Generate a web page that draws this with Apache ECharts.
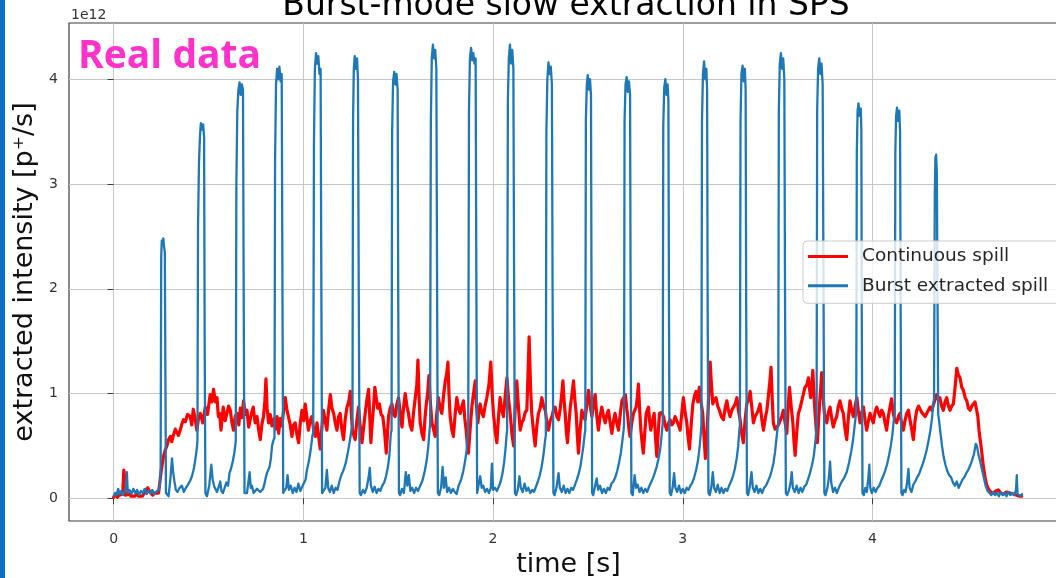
<!DOCTYPE html>
<html>
<head>
<meta charset="utf-8">
<title>Burst-mode slow extraction in SPS</title>
<script src="https://cdn.jsdelivr.net/npm/echarts@6/dist/echarts.min.js"></script>
<style>
html, body { margin: 0; padding: 0; background: #fff; }
#chart { width: 1056px; height: 578px; }
</style>
</head>
<body>
<div id="chart"></div>
<script>
// tick positions (s and 1e12 p+/s)
var xTicks = [0, 1, 2, 3, 4];
var yTicks = [0, 1, 2, 3, 4];

// continuous spill, [time s, intensity 1e12 p+/s]
var continuousSpill = [
  [0.000,0.01],[0.010,0.03],[0.020,0.01],[0.030,0.03],[0.040,0.02],[0.048,0.04],[0.054,0.27],[0.058,0.20],[0.062,0.03],[0.072,0.02],
  [0.082,0.04],[0.092,0.02],[0.102,0.03],[0.112,0.02],[0.122,0.04],[0.132,0.02],[0.142,0.03],[0.152,0.02],[0.162,0.05],[0.172,0.08],
  [0.180,0.10],[0.188,0.07],[0.196,0.05],[0.206,0.03],[0.216,0.05],[0.226,0.04],[0.237,0.05],[0.250,0.25],[0.263,0.40],[0.272,0.46],
  [0.281,0.50],[0.290,0.56],[0.299,0.59],[0.307,0.54],[0.315,0.60],[0.325,0.66],[0.334,0.67],[0.342,0.60],[0.351,0.65],[0.360,0.71],
  [0.369,0.75],[0.378,0.73],[0.390,0.80],[0.404,0.78],[0.412,0.70],[0.420,0.85],[0.430,0.76],[0.439,0.65],[0.448,0.77],[0.457,0.81],
  [0.470,0.72],[0.483,0.87],[0.495,0.80],[0.509,0.99],[0.518,0.92],[0.527,1.04],[0.536,0.92],[0.545,0.96],[0.552,0.78],[0.559,0.81],
  [0.566,0.65],[0.578,0.87],[0.588,0.74],[0.597,0.75],[0.606,0.88],[0.615,0.84],[0.624,0.72],[0.632,0.65],[0.641,0.78],[0.650,0.81],
  [0.660,0.70],[0.668,0.86],[0.676,0.77],[0.685,0.93],[0.694,0.80],[0.703,0.84],[0.712,0.68],[0.720,0.75],[0.728,0.82],[0.736,0.87],
  [0.746,0.72],[0.756,0.78],[0.764,0.66],[0.773,0.56],[0.782,0.71],[0.790,0.78],[0.797,0.92],[0.803,1.14],[0.809,0.86],[0.817,0.72],
  [0.826,0.80],[0.835,0.69],[0.846,0.76],[0.853,0.66],[0.861,0.78],[0.870,0.62],[0.878,0.76],[0.887,0.69],[0.896,0.84],[0.905,0.96],
  [0.913,0.85],[0.922,0.84],[0.931,0.70],[0.940,0.59],[0.948,0.70],[0.957,0.72],[0.966,0.61],[0.975,0.53],[0.984,0.72],[0.993,0.84],
  [1.002,0.74],[1.010,0.90],[1.018,0.78],[1.027,0.65],[1.036,0.74],[1.045,0.78],[1.054,0.66],[1.063,0.59],[1.072,0.72],[1.080,0.60],
  [1.089,0.47],[1.098,0.68],[1.106,0.84],[1.115,0.74],[1.124,0.65],[1.133,0.84],[1.142,0.99],[1.151,0.86],[1.160,0.81],[1.168,0.72],
  [1.177,0.65],[1.186,0.78],[1.194,0.81],[1.203,0.66],[1.212,0.56],[1.221,0.76],[1.230,0.87],[1.239,0.92],[1.247,1.02],[1.253,0.80],
  [1.259,0.65],[1.266,0.60],[1.273,0.56],[1.282,0.74],[1.291,0.87],[1.300,0.68],[1.309,0.53],[1.318,0.68],[1.326,0.81],[1.335,0.94],
  [1.344,1.04],[1.350,0.78],[1.356,0.53],[1.363,0.72],[1.370,0.87],[1.377,1.06],[1.384,0.96],[1.392,0.86],[1.401,0.90],[1.410,0.80],
  [1.419,0.78],[1.428,0.64],[1.437,0.43],[1.443,0.60],[1.449,0.78],[1.458,0.86],[1.467,0.90],[1.476,0.80],[1.484,0.78],[1.493,0.90],
  [1.502,0.96],[1.511,0.80],[1.520,0.68],[1.528,0.86],[1.537,1.00],[1.546,0.88],[1.554,0.81],[1.563,0.70],[1.572,0.65],[1.581,0.82],
  [1.590,0.96],[1.598,1.08],[1.604,1.32],[1.610,0.96],[1.616,0.72],[1.625,0.62],[1.634,0.56],[1.641,0.76],[1.648,0.90],[1.655,1.00],
  [1.662,1.17],[1.670,0.90],[1.678,0.72],[1.686,0.66],[1.695,0.59],[1.703,0.80],[1.712,0.96],[1.721,0.86],[1.730,0.81],[1.739,0.98],
  [1.748,1.12],[1.755,1.18],[1.762,1.30],[1.768,0.98],[1.774,0.78],[1.782,0.66],[1.791,0.59],[1.800,0.80],[1.809,0.96],[1.818,0.86],
  [1.827,0.81],[1.836,0.88],[1.844,0.93],[1.851,0.76],[1.858,0.65],[1.864,0.52],[1.870,0.43],[1.879,0.66],[1.888,0.87],[1.897,1.00],
  [1.906,1.12],[1.913,0.88],[1.920,0.72],[1.926,0.84],[1.932,0.90],[1.940,0.82],[1.949,0.78],[1.958,0.88],[1.967,0.96],[1.978,1.08],
  [1.988,1.30],[1.995,1.00],[2.002,0.81],[2.011,0.64],[2.020,0.53],[2.028,0.76],[2.037,0.96],[2.046,0.84],[2.055,0.78],[2.064,0.98],
  [2.073,1.15],[2.082,0.94],[2.090,0.81],[2.099,0.62],[2.108,0.50],[2.116,0.84],[2.125,1.12],[2.134,0.86],[2.143,0.65],[2.151,0.72],
  [2.160,0.75],[2.169,0.82],[2.178,0.84],[2.184,1.18],[2.190,1.54],[2.197,1.08],[2.204,0.81],[2.213,0.64],[2.222,0.50],[2.230,0.68],
  [2.239,0.81],[2.248,0.86],[2.257,0.96],[2.266,0.88],[2.275,0.84],[2.284,0.72],[2.292,0.65],[2.301,0.74],[2.310,0.78],[2.318,0.84],
  [2.327,0.87],[2.336,0.78],[2.345,0.75],[2.354,0.86],[2.361,0.98],[2.368,1.12],[2.374,0.94],[2.380,0.81],[2.386,0.64],[2.392,0.53],
  [2.400,0.72],[2.407,0.87],[2.415,0.98],[2.424,1.12],[2.431,0.94],[2.438,0.81],[2.444,0.60],[2.450,0.43],[2.459,0.66],[2.468,0.84],
  [2.476,0.78],[2.485,0.75],[2.494,0.90],[2.503,1.03],[2.512,0.88],[2.521,0.78],[2.530,0.90],[2.538,0.99],[2.546,0.80],[2.555,0.65],
  [2.564,0.78],[2.573,0.87],[2.582,0.78],[2.591,0.72],[2.600,0.80],[2.608,0.84],[2.617,0.72],[2.626,0.62],[2.635,0.74],[2.643,0.81],
  [2.652,0.72],[2.661,0.65],[2.670,0.80],[2.679,0.93],[2.688,0.94],[2.697,0.99],[2.704,0.86],[2.710,0.78],[2.716,0.66],[2.722,0.59],
  [2.731,0.72],[2.740,0.81],[2.747,0.82],[2.754,0.87],[2.760,0.96],[2.766,1.09],[2.772,0.86],[2.779,0.65],[2.786,0.52],[2.792,0.43],
  [2.800,0.64],[2.807,0.81],[2.813,0.82],[2.819,0.87],[2.825,0.74],[2.831,0.65],[2.840,0.74],[2.849,0.81],[2.856,0.58],[2.863,0.40],
  [2.870,0.62],[2.877,0.81],[2.888,0.82],[2.898,0.78],[2.907,0.70],[2.916,0.65],[2.925,0.72],[2.933,0.75],[2.942,0.70],[2.950,0.72],
  [2.959,0.78],[2.968,0.78],[2.977,0.70],[2.986,0.65],[2.995,0.82],[3.003,0.96],[3.012,0.82],[3.021,0.72],[3.028,0.58],[3.035,0.47],
  [3.044,0.70],[3.053,0.90],[3.062,0.98],[3.070,1.02],[3.079,0.92],[3.087,1.06],[3.096,0.92],[3.105,0.81],[3.112,0.58],[3.119,0.38],
  [3.125,0.56],[3.130,0.72],[3.137,1.00],[3.144,1.30],[3.151,1.08],[3.158,0.90],[3.166,0.94],[3.175,0.96],[3.184,0.88],[3.193,0.84],
  [3.203,0.78],[3.214,0.75],[3.223,0.86],[3.232,0.93],[3.240,0.84],[3.249,0.78],[3.258,0.84],[3.267,0.87],[3.276,0.90],[3.285,0.96],
  [3.293,0.84],[3.302,0.75],[3.310,0.62],[3.319,0.53],[3.328,0.74],[3.337,0.90],[3.346,0.94],[3.355,1.02],[3.364,0.86],[3.372,0.72],
  [3.381,0.78],[3.390,0.81],[3.398,0.84],[3.407,0.90],[3.416,0.76],[3.425,0.65],[3.434,0.76],[3.443,0.84],[3.450,0.96],[3.458,1.10],
  [3.465,1.25],[3.471,0.96],[3.477,0.72],[3.486,0.66],[3.495,0.65],[3.504,0.70],[3.513,0.69],[3.521,0.78],[3.530,0.84],[3.539,0.72],
  [3.548,0.62],[3.555,0.86],[3.562,1.06],[3.571,0.88],[3.580,0.72],[3.586,0.54],[3.592,0.41],[3.600,0.62],[3.609,0.81],[3.618,0.86],
  [3.627,0.93],[3.636,1.00],[3.644,1.06],[3.653,1.08],[3.662,1.15],[3.668,1.04],[3.674,0.96],[3.680,1.08],[3.685,1.22],[3.691,1.00],
  [3.697,0.81],[3.703,0.66],[3.709,0.53],[3.716,0.76],[3.723,0.96],[3.728,1.08],[3.732,1.20],[3.739,0.98],[3.746,0.81],[3.753,0.74],
  [3.759,0.72],[3.767,0.82],[3.776,0.87],[3.785,0.76],[3.793,0.68],[3.802,0.74],[3.811,0.78],[3.820,0.88],[3.828,0.93],[3.837,0.86],
  [3.846,0.81],[3.855,0.66],[3.864,0.56],[3.872,0.76],[3.881,0.93],[3.890,0.84],[3.899,0.78],[3.908,0.88],[3.917,0.96],[3.926,0.82],
  [3.934,0.72],[3.943,0.82],[3.952,0.87],[3.961,0.74],[3.969,0.65],[3.978,0.74],[3.987,0.81],[3.996,0.76],[4.004,0.72],[4.013,0.82],
  [4.022,0.87],[4.031,0.82],[4.039,0.78],[4.048,0.84],[4.057,0.81],[4.066,0.72],[4.074,0.65],[4.083,0.78],[4.092,0.87],[4.100,0.95],
  [4.109,0.81],[4.118,0.74],[4.127,0.72],[4.136,0.78],[4.144,0.81],[4.153,0.72],[4.162,0.65],[4.171,0.74],[4.180,0.81],[4.189,0.84],
  [4.197,0.84],[4.206,0.66],[4.215,0.56],[4.224,0.74],[4.233,0.84],[4.242,0.88],[4.250,0.87],[4.259,0.82],[4.268,0.81],[4.277,0.78],
  [4.285,0.78],[4.294,0.84],[4.303,0.87],[4.312,0.84],[4.320,0.84],[4.329,0.94],[4.338,0.99],[4.347,0.94],[4.355,0.96],[4.364,0.88],
  [4.373,0.84],[4.382,0.92],[4.391,0.96],[4.400,0.88],[4.408,0.84],[4.417,0.88],[4.426,0.90],[4.435,1.06],[4.444,1.24],[4.452,1.18],
  [4.461,1.15],[4.470,1.06],[4.479,1.03],[4.488,0.96],[4.497,0.93],[4.505,0.86],[4.514,0.84],[4.523,0.88],[4.532,0.87],[4.540,0.92],
  [4.549,0.93],[4.555,0.78],[4.561,0.65],[4.568,0.55],[4.575,0.45],[4.584,0.30],[4.593,0.20],[4.601,0.13],[4.610,0.09],[4.623,0.06],
  [4.637,0.05],[4.650,0.07],[4.663,0.08],[4.676,0.05],[4.689,0.04],[4.707,0.06],[4.724,0.05],[4.742,0.04],[4.760,0.03],[4.775,0.02],
  [4.786,0.02]
];

// burst extracted spill, [time s, intensity 1e12 p+/s]
var burstSpill = [
  [0.000,0.02],[0.008,0.05],[0.016,0.03],[0.024,0.09],[0.032,0.04],[0.040,0.07],[0.048,0.03],[0.056,0.06],[0.064,0.10],[0.070,0.25],
  [0.075,0.05],[0.084,0.08],[0.094,0.04],[0.104,0.09],[0.114,0.05],[0.124,0.08],[0.134,0.03],[0.144,0.07],[0.154,0.05],[0.164,0.09],
  [0.174,0.04],[0.184,0.07],[0.194,0.05],[0.204,0.08],[0.214,0.04],[0.222,0.06],[0.230,0.05],[0.238,0.08],[0.245,0.15],
  [0.248,0.30],[0.251,2.30],[0.254,2.46],[0.258,2.42],[0.262,2.48],[0.266,2.40],[0.270,2.35],[0.273,1.20],[0.276,0.05],
  [0.290,0.02],[0.300,0.20],[0.308,0.38],[0.314,0.25],[0.320,0.17],[0.328,0.08],[0.337,0.06],[0.348,0.10],[0.360,0.12],[0.370,0.06],
  [0.378,0.09],[0.387,0.08],[0.395,0.14],[0.404,0.17],[0.413,0.21],[0.420,0.26],[0.426,0.31],[0.433,0.40],[0.439,0.48],
  [0.442,0.55],[0.445,2.60],[0.450,3.20],[0.455,3.45],[0.460,3.58],[0.466,3.52],[0.472,3.57],[0.477,3.45],[0.480,1.50],[0.484,0.05],
  [0.492,0.02],[0.504,0.12],[0.515,0.32],[0.522,0.18],[0.531,0.11],[0.545,0.06],[0.552,0.10],[0.562,0.16],[0.568,0.07],[0.576,0.05],
  [0.585,0.10],[0.594,0.15],[0.603,0.12],[0.611,0.24],[0.620,0.29],[0.629,0.36],[0.636,0.43],[0.641,0.50],
  [0.644,0.55],[0.647,3.00],[0.652,3.70],[0.658,3.90],[0.664,3.97],[0.670,3.85],[0.676,3.95],[0.682,3.90],[0.686,1.80],[0.690,0.05],
  [0.703,0.05],[0.710,0.15],[0.717,0.25],[0.723,0.10],[0.729,0.12],[0.738,0.05],[0.747,0.06],[0.756,0.09],[0.764,0.10],[0.773,0.06],
  [0.782,0.05],[0.788,0.09],[0.794,0.13],[0.801,0.19],[0.808,0.24],[0.815,0.27],[0.822,0.30],[0.829,0.38],[0.835,0.50],[0.842,0.55],
  [0.848,0.58],[0.851,3.20],[0.856,3.95],[0.862,4.10],[0.868,4.00],[0.874,4.12],[0.880,3.98],[0.886,4.05],[0.890,2.00],[0.894,0.05],
  [0.902,0.04],[0.910,0.10],[0.917,0.22],[0.924,0.08],[0.934,0.12],[0.944,0.05],[0.954,0.10],[0.964,0.06],[0.974,0.14],[0.984,0.07],
  [0.994,0.11],[1.004,0.10],[1.012,0.18],[1.019,0.27],[1.030,0.36],[1.040,0.48],[1.048,0.60],
  [1.052,0.62],[1.056,3.40],[1.061,4.10],[1.067,4.25],[1.073,4.15],[1.079,4.22],[1.085,4.05],[1.091,4.10],[1.095,2.00],[1.099,0.05],
  [1.106,0.04],[1.116,0.10],[1.124,0.27],[1.131,0.10],[1.140,0.06],[1.150,0.12],[1.160,0.05],[1.170,0.10],[1.180,0.08],[1.190,0.16],
  [1.200,0.22],[1.212,0.27],[1.224,0.34],[1.236,0.45],[1.248,0.58],[1.256,0.68],
  [1.259,0.70],[1.262,3.60],[1.266,4.10],[1.271,4.22],[1.277,4.10],[1.283,4.20],[1.288,4.00],[1.292,2.00],[1.297,0.05],
  [1.304,0.03],[1.314,0.08],[1.324,0.05],[1.334,0.10],[1.344,0.20],[1.350,0.29],[1.356,0.12],[1.366,0.06],[1.376,0.11],[1.386,0.05],
  [1.396,0.09],[1.406,0.07],[1.416,0.12],[1.426,0.15],[1.436,0.21],[1.446,0.30],[1.454,0.42],[1.461,0.62],
  [1.465,0.65],[1.468,3.50],[1.473,3.98],[1.479,4.07],[1.485,3.95],[1.491,4.05],[1.497,3.90],[1.500,2.00],[1.504,0.05],
  [1.510,0.03],[1.520,0.09],[1.530,0.05],[1.540,0.25],[1.548,0.12],[1.556,0.22],[1.564,0.07],[1.574,0.10],[1.584,0.05],[1.594,0.10],
  [1.604,0.07],[1.616,0.12],[1.628,0.17],[1.640,0.26],[1.650,0.36],[1.658,0.48],[1.665,0.65],
  [1.668,0.70],[1.672,3.60],[1.677,4.20],[1.683,4.33],[1.689,4.20],[1.695,4.28],[1.701,4.10],[1.705,2.00],[1.709,0.05],
  [1.716,0.03],[1.726,0.10],[1.734,0.30],[1.741,0.10],[1.750,0.20],[1.758,0.06],[1.768,0.10],[1.778,0.05],[1.788,0.09],[1.798,0.06],
  [1.808,0.04],[1.818,0.12],[1.830,0.17],[1.842,0.25],[1.852,0.35],[1.860,0.45],[1.866,0.60],
  [1.869,0.65],[1.873,3.70],[1.878,4.20],[1.884,4.30],[1.890,4.18],[1.896,4.25],[1.902,4.15],[1.908,4.20],[1.912,2.00],[1.916,0.05],
  [1.922,0.04],[1.932,0.21],[1.940,0.10],[1.948,0.12],[1.958,0.06],[1.968,0.09],[1.978,0.05],[1.988,0.10],[1.994,0.33],[2.000,0.08],
  [2.010,0.10],[2.020,0.07],[2.030,0.11],[2.040,0.16],[2.050,0.24],[2.058,0.34],[2.066,0.48],[2.071,0.60],
  [2.074,0.65],[2.078,3.80],[2.083,4.20],[2.089,4.33],[2.095,4.15],[2.101,4.28],[2.107,4.10],[2.111,2.00],[2.115,0.05],
  [2.122,0.03],[2.130,0.08],[2.139,0.21],[2.146,0.10],[2.156,0.06],[2.166,0.14],[2.176,0.07],[2.186,0.10],[2.196,0.05],[2.206,0.08],
  [2.216,0.06],[2.226,0.11],[2.236,0.16],[2.246,0.22],[2.256,0.30],[2.266,0.42],[2.274,0.55],
  [2.278,0.60],[2.281,3.50],[2.286,4.00],[2.292,4.16],[2.298,4.05],[2.304,4.12],[2.310,3.95],[2.314,1.80],[2.318,0.05],
  [2.324,0.03],[2.334,0.10],[2.345,0.24],[2.352,0.10],[2.362,0.06],[2.372,0.12],[2.382,0.05],[2.392,0.09],[2.402,0.05],[2.412,0.10],
  [2.422,0.08],[2.432,0.13],[2.442,0.18],[2.452,0.24],[2.460,0.30],[2.468,0.40],[2.476,0.50],[2.482,0.60],
  [2.486,0.65],[2.489,3.60],[2.494,3.95],[2.499,4.04],[2.505,3.90],[2.511,4.00],[2.516,3.85],[2.519,1.80],[2.522,0.05],
  [2.528,0.03],[2.538,0.12],[2.546,0.19],[2.554,0.08],[2.564,0.12],[2.574,0.05],[2.584,0.09],[2.594,0.05],[2.604,0.10],[2.614,0.08],
  [2.624,0.14],[2.634,0.16],[2.644,0.20],[2.654,0.26],[2.664,0.34],[2.674,0.44],[2.682,0.56],[2.688,0.65],
  [2.690,0.70],[2.693,3.60],[2.698,3.95],[2.704,4.02],[2.710,3.88],[2.716,3.98],[2.722,3.85],[2.725,1.80],[2.729,0.05],
  [2.736,0.03],[2.746,0.22],[2.754,0.10],[2.762,0.13],[2.772,0.06],[2.782,0.10],[2.792,0.05],[2.802,0.09],[2.812,0.06],[2.822,0.11],
  [2.832,0.15],[2.842,0.19],[2.852,0.24],[2.862,0.30],[2.872,0.38],[2.880,0.46],[2.887,0.58],[2.892,0.68],
  [2.894,0.70],[2.897,3.55],[2.902,3.92],[2.908,4.00],[2.914,3.85],[2.920,3.95],[2.924,3.80],[2.927,1.80],[2.931,0.05],
  [2.938,0.03],[2.946,0.10],[2.954,0.24],[2.961,0.10],[2.970,0.06],[2.980,0.12],[2.990,0.05],[3.000,0.09],[3.010,0.05],[3.020,0.10],
  [3.030,0.08],[3.040,0.12],[3.050,0.15],[3.060,0.20],[3.070,0.27],[3.080,0.36],[3.088,0.48],[3.095,0.62],
  [3.098,0.70],[3.101,3.60],[3.106,4.05],[3.112,4.17],[3.118,4.00],[3.124,4.10],[3.128,3.90],[3.131,1.80],[3.135,0.05],
  [3.142,0.03],[3.150,0.10],[3.158,0.25],[3.165,0.10],[3.174,0.06],[3.184,0.13],[3.194,0.05],[3.204,0.10],[3.214,0.05],[3.224,0.09],
  [3.234,0.07],[3.244,0.12],[3.254,0.16],[3.264,0.21],[3.274,0.28],[3.284,0.38],[3.292,0.50],[3.298,0.65],
  [3.301,0.70],[3.304,3.60],[3.309,4.05],[3.315,4.13],[3.321,3.98],[3.327,4.10],[3.331,3.90],[3.334,1.80],[3.338,0.05],
  [3.344,0.03],[3.352,0.10],[3.362,0.25],[3.369,0.10],[3.378,0.06],[3.388,0.12],[3.398,0.05],[3.408,0.09],[3.418,0.05],[3.428,0.10],
  [3.438,0.12],[3.448,0.16],[3.458,0.20],[3.468,0.26],[3.478,0.34],[3.486,0.44],[3.494,0.58],[3.500,0.68],
  [3.503,0.70],[3.506,3.70],[3.511,4.15],[3.517,4.25],[3.523,4.10],[3.529,4.20],[3.535,4.00],[3.539,1.80],[3.543,0.05],
  [3.550,0.03],[3.560,0.08],[3.568,0.15],[3.574,0.25],[3.580,0.10],[3.590,0.06],[3.600,0.12],[3.610,0.05],[3.620,0.10],[3.630,0.06],
  [3.640,0.11],[3.650,0.13],[3.660,0.18],[3.670,0.24],[3.680,0.31],[3.690,0.40],[3.698,0.53],[3.704,0.66],
  [3.705,0.70],[3.708,3.70],[3.713,4.10],[3.719,4.20],[3.725,4.05],[3.731,4.15],[3.737,3.95],[3.742,1.80],[3.746,0.05],
  [3.752,0.03],[3.762,0.10],[3.770,0.20],[3.776,0.35],[3.782,0.15],[3.792,0.06],[3.802,0.10],[3.812,0.05],[3.822,0.10],[3.832,0.14],
  [3.842,0.17],[3.852,0.20],[3.864,0.25],[3.876,0.34],[3.888,0.45],[3.898,0.57],[3.906,0.70],[3.911,0.78],
  [3.914,0.80],[3.917,3.30],[3.921,3.70],[3.926,3.77],[3.932,3.65],[3.938,3.72],[3.941,3.50],[3.943,1.80],[3.947,0.05],
  [3.954,0.03],[3.962,0.10],[3.970,0.06],[3.978,0.20],[3.983,0.32],[3.988,0.10],[3.996,0.05],[4.006,0.10],[4.016,0.06],[4.026,0.10],
  [4.036,0.12],[4.046,0.17],[4.056,0.21],[4.066,0.26],[4.076,0.32],[4.086,0.40],[4.096,0.50],[4.104,0.60],[4.112,0.75],
  [4.117,0.80],[4.120,3.30],[4.124,3.65],[4.129,3.73],[4.135,3.60],[4.141,3.70],[4.145,3.50],[4.148,1.80],[4.152,0.05],
  [4.158,0.03],[4.166,0.08],[4.174,0.06],[4.182,0.15],[4.189,0.28],[4.195,0.10],[4.205,0.06],[4.215,0.13],[4.225,0.16],[4.235,0.20],
  [4.245,0.23],[4.255,0.28],[4.265,0.33],[4.275,0.39],[4.285,0.46],[4.295,0.55],[4.305,0.65],[4.313,0.76],[4.320,0.90],
  [4.324,0.95],[4.328,2.90],[4.331,3.25],[4.335,3.28],[4.339,3.10],[4.342,2.00],[4.346,0.80],
  [4.350,0.75],[4.358,0.62],[4.366,0.50],[4.374,0.40],[4.384,0.32],[4.394,0.26],[4.404,0.22],[4.414,0.20],[4.424,0.15],[4.434,0.12],
  [4.444,0.16],[4.454,0.10],[4.464,0.14],[4.474,0.18],[4.484,0.20],[4.494,0.24],[4.504,0.27],[4.514,0.31],[4.524,0.36],[4.534,0.42],
  [4.544,0.52],[4.550,0.50],[4.558,0.42],[4.566,0.36],[4.576,0.28],[4.586,0.20],[4.596,0.12],[4.606,0.07],[4.616,0.05],[4.626,0.03],
  [4.636,0.06],[4.646,0.03],[4.656,0.05],[4.666,0.02],[4.676,0.06],[4.686,0.03],[4.696,0.05],[4.706,0.02],[4.716,0.06],[4.726,0.03],
  [4.736,0.05],[4.746,0.03],[4.756,0.08],[4.760,0.22],[4.764,0.04],[4.772,0.05],[4.780,0.02],[4.788,0.04]
];

var chart = echarts.init(document.getElementById("chart"));

var tickLabel = function (ticks) {
    return function (value) {
        return ticks.indexOf(Math.round(value * 1000) / 1000) >= 0 ? String(value) : "";
    };
};

var option = {
    animation: false,
    backgroundColor: "#ffffff",
    textStyle: { fontFamily: "DejaVu Sans" },
    grid: {
        left: 69,
        top: 23,
        width: 999,
        height: 498,
        outerBoundsMode: "none",
        containLabel: false,
        show: true,
        borderColor: "#3c3c3c",
        borderWidth: 1.2,
        backgroundColor: "transparent",
    },
    xAxis: {
        type: "value",
        min: -0.235,
        max: 5.03,
        name: "time [s]",
        nameLocation: "middle",
        nameGap: 30,
        nameTextStyle: { fontSize: 27, color: "#111111", fontFamily: "DejaVu Sans" },
        axisLine: { show: false },
        axisTick: { show: true, length: 6, customValues: xTicks, lineStyle: { color: "#3c3c3c", width: 1 } },
        axisLabel: { customValues: xTicks, margin: 11, fontSize: 14, color: "#333333", formatter: tickLabel(xTicks) },
        splitLine: { show: true, lineStyle: { color: "#c6c6c6", width: 1 } },
    },
    yAxis: {
        type: "value",
        min: -0.217,
        max: 4.537,
        name: "extracted intensity [p\u207A/s]",
        nameLocation: "middle",
        nameGap: 24,
        nameTextStyle: { fontSize: 27, color: "#111111", fontFamily: "DejaVu Sans" },
        axisLine: { show: false },
        axisTick: { show: true, length: 6, customValues: yTicks, lineStyle: { color: "#3c3c3c", width: 1 } },
        axisLabel: { customValues: yTicks, margin: 11, fontSize: 14, color: "#333333", formatter: tickLabel(yTicks) },
        splitLine: { show: true, lineStyle: { color: "#c6c6c6", width: 1 } },
    },
    legend: {
        orient: "vertical",
        left: 803,
        top: 241,
        padding: [6, 16, 8, 5],
        itemGap: 10.3,
        itemWidth: 40,
        itemHeight: 3,
        icon: "rect",
        backgroundColor: "rgba(255,255,255,0.8)",
        borderColor: "#cccccc",
        borderWidth: 1,
        borderRadius: 4,
        textStyle: { fontFamily: "DejaVu Sans", fontSize: 18.5, lineHeight: 18, color: "#262626", padding: [0, 0, 0, 9] },
        data: ["Continuous spill", "Burst extracted spill"],
    },
    series: [
        {
            name: "Continuous spill",
            type: "line",
            data: continuousSpill,
            symbol: "none",
            showSymbol: false,
            z: 2,
            lineStyle: { color: "#ff0000", width: 3.2, join: "round", cap: "round" },
            itemStyle: { color: "#ff0000" },
        },
        {
            name: "Burst extracted spill",
            type: "line",
            data: burstSpill,
            symbol: "none",
            showSymbol: false,
            z: 3,
            lineStyle: { color: "#1f77b4", width: 2.3, join: "round", cap: "round" },
            itemStyle: { color: "#1f77b4" },
        },
    ],
    graphic: [
        { type: "rect", x: 0, y: 0, z: 100, shape: { width: 5, height: 578 }, style: { fill: "#0b6fc5" } },
        {
            type: "text", x: 566, y: 6.6, z: 100,
            style: { text: "Burst-mode slow extraction in SPS", fontSize: 33, fontFamily: "DejaVu Sans", fill: "#000000", align: "center", verticalAlign: "middle" },
        },
        {
            type: "text", x: 71, y: 15, z: 100,
            style: { text: "1e12", fontSize: 14, fontFamily: "DejaVu Sans", fill: "#333333", align: "left", verticalAlign: "middle" },
        },
        {
            type: "text", x: 78, y: 57, z: 100,
            style: { text: "Real data", fontSize: 39, fontWeight: "bold", fontFamily: "Open Sans", fill: "#ff33cc", align: "left", verticalAlign: "middle" },
        },
    ],
};

chart.setOption(option);
window.addEventListener("resize", function () {
    chart.resize();
});
</script>
</body>
</html>
